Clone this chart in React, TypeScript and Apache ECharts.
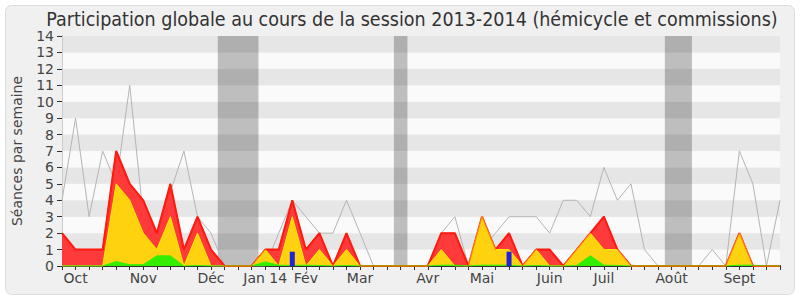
import React, { useEffect, useRef } from "react";
import * as echarts from "echarts";

// Weekly values, week index 0..53 (Oct 2013 -> Sept 2014)
const totalWeek = [2, 1, 1, 1, 7, 5, 4, 2, 5, 1, 3, 1, 0, 0, 0, 1, 1, 4, 1, 2, 0, 2, 0, 0, 0, 0, 0, 0, 2, 2, 0, 3, 1, 2, 0, 1, 1, 0, 1, 2, 3, 1, 0, 0, 0, 0, 0, 0, 0, 0, 2, 0, 0, 0];
const commissionWeek = [0, 0, 0, 0, 5, 4, 2, 1, 3, 0, 2, 0, 0, 0, 0, 1, 0, 3, 0, 1, 0, 1, 0, 0, 0, 0, 0, 0, 1, 0, 0, 3, 1, 1, 0, 1, 0, 0, 1, 2, 1, 1, 0, 0, 0, 0, 0, 0, 0, 0, 2, 0, 0, 0];
const hemicycleWeek = [0, 0, 0, 0, 0.27, 0.08, 0.08, 0.62, 0.62, 0, 0.03, 0, 0, 0, 0, 0.25, 0.05, 0.03, 0.05, 0.03, 0, 0.03, 0, 0, 0, 0, 0, 0, 0.05, 0.05, 0, 0.05, 0.05, 0.05, 0, 0.03, 0, 0, 0.03, 0.63, 0.05, 0.03, 0, 0, 0, 0, 0, 0, 0, 0, 0.05, 0.05, 0, 0];
const medianWeek = [4, 9, 3, 7, 5, 11, 3, 2, 4.5, 7, 3, 2, 0, 0, 0, 0, 2, 4, 3, 2, 2, 4, 2, 0, 0, 0, 0, 0, 2, 3, 0, 1, 2, 3, 3, 3, 2, 4, 4, 3, 6, 4, 5, 1, 0, 0, 0, 0, 1, 0, 7, 5, 0, 4];
const questionWeeks = [17, 33];
const questionValues = [0.87, 0.87];

// Month labels placed on week ticks
const monthWeekIndex = [1, 6, 11, 15, 18, 22, 27, 31, 36, 40, 45, 50];
const monthNames = ["Oct", "Nov", "Déc", "Jan 14", "Fév", "Mar", "Avr", "Mai", "Juin", "Juil", "Août", "Sept"];

// Holiday periods (week index bounds)
const holidayStart = [11.5, 24.5, 44.5];
const holidayEnd = [14.5, 25.5, 46.5];

const yTicks = [0, 14];
const FONT = "DejaVu Sans";
const TITLE_FONT = "'DejaVu Sans Condensed', 'DejaVu Sans'";

export default function App() {
  const ref = useRef<HTMLDivElement>(null);
  useEffect(() => {
    if (!ref.current) return;
    const chart = echarts.init(ref.current, undefined, { renderer: "svg" });
    const toPairs = (arr: number[]) => arr.map((v, i) => [i, v]);
    const labelMap: Record<number, string> = {};
    monthWeekIndex.forEach((w, k) => (labelMap[w] = monthNames[k]));
    const lastWeek = totalWeek.length - 1;

    chart.setOption({
      animation: false,
      backgroundColor: "#ffffff",
      textStyle: { fontFamily: FONT },
      graphic: [
        {
          type: "rect",
          z: -10,
          silent: true,
          shape: { x: 5.5, y: 5.5, width: 789, height: 289, r: 6 },
          style: { fill: "#f0f0f0", stroke: "#dcdcdc", lineWidth: 1 },
        },
      ],
      title: {
        text: "Participation globale au cours de la session 2013-2014 (hémicycle et commissions)",
        left: 412,
        textAlign: "center",
        top: 10,
        padding: 0,
        textStyle: { fontFamily: TITLE_FONT, fontSize: 19.5, lineHeight: 18, fontWeight: "normal", color: "#333" },
      },
      grid: { left: 62, right: 20, top: 36, bottom: 34 },
      xAxis: [
        {
          type: "value",
          min: 0,
          max: lastWeek,
          interval: 1,
          axisLine: { show: true, lineStyle: { color: "#333", width: 1 } },
          axisTick: { show: true, length: 4, lineStyle: { color: "#333" } },
          splitLine: { show: false },
          axisLabel: {
            show: true,
            fontFamily: FONT,
            fontSize: 14,
            color: "#444",
            margin: 5,
            hideOverlap: false,
            showMinLabel: true,
            showMaxLabel: true,
            formatter: (v: number) => labelMap[v] ?? "",
          },
        },
        {
          type: "value",
          position: "top",
          min: 0,
          max: lastWeek,
          interval: 1,
          axisLine: { show: false },
          axisTick: { show: true, length: 1, lineStyle: { color: "#555" } },
          axisLabel: { show: false },
          splitLine: { show: false },
        },
      ],
      yAxis: [
        {
          type: "value",
          min: yTicks[0],
          max: yTicks[1],
          interval: 1,
          name: "Séances par semaine",
          nameLocation: "middle",
          nameGap: 38,
          nameRotate: 90,
          nameTextStyle: { fontFamily: FONT, fontSize: 14, color: "#444" },
          axisLine: { show: true, lineStyle: { color: "#333" } },
          axisTick: { show: true, length: 5, lineStyle: { color: "#333" } },
          axisLabel: { fontFamily: FONT, fontSize: 14, color: "#444", margin: 8 },
          splitLine: { show: false },
          splitArea: { show: true, areaStyle: { color: ["#fafafa", "#e6e6e6"] } },
        },
        {
          type: "value",
          position: "right",
          min: yTicks[0],
          max: yTicks[1],
          axisLine: { show: true, lineStyle: { color: "#cccccc" } },
          axisTick: { show: false },
          axisLabel: { show: false },
          splitLine: { show: false },
        },
      ],
      series: [
        {
          type: "line",
          name: "médiane",
          data: toPairs(medianWeek),
          symbol: "none",
          lineStyle: { color: "#b4b4b4", width: 1 },
          z: 1,
          markArea: {
            silent: true,
            itemStyle: { color: "rgba(0,0,0,0.24)" },
            data: holidayStart.map((s, k) => [{ xAxis: s }, { xAxis: holidayEnd[k] }]),
          },
        },
        {
          type: "line",
          name: "total",
          data: toPairs(totalWeek),
          symbol: "none",
          lineStyle: { color: "#ff1414", width: 2 },
          areaStyle: { color: "rgb(255,58,58)", opacity: 1 },
          z: 2,
        },
        {
          type: "line",
          name: "commission",
          data: toPairs(commissionWeek),
          symbol: "none",
          lineStyle: { color: "#ffee00", width: 1 },
          areaStyle: { color: "rgb(255,210,15)", opacity: 1 },
          z: 3,
        },
        {
          type: "line",
          name: "hemicycle",
          data: toPairs(hemicycleWeek),
          symbol: "none",
          lineStyle: { color: "#33ee00", width: 1 },
          areaStyle: { color: "#33ee00", opacity: 1 },
          z: 4,
        },
        {
          type: "line",
          name: "totalEdge",
          data: toPairs(totalWeek),
          symbol: "none",
          lineStyle: { color: "rgba(255,40,0,0.55)", width: 1 },
          z: 5,
        },
        {
          type: "bar",
          name: "questions",
          data: questionWeeks.map((w, k) => [w, questionValues[k]]),
          barWidth: 5,
          itemStyle: { color: "#2222dd" },
          z: 6,
        },
      ],
    });
    return () => chart.dispose();
  }, []);
  return (
    <div
      ref={ref}
      style={{ position: "fixed", left: 0, top: 0, width: 800, height: 300 }}
    />
  );
}
